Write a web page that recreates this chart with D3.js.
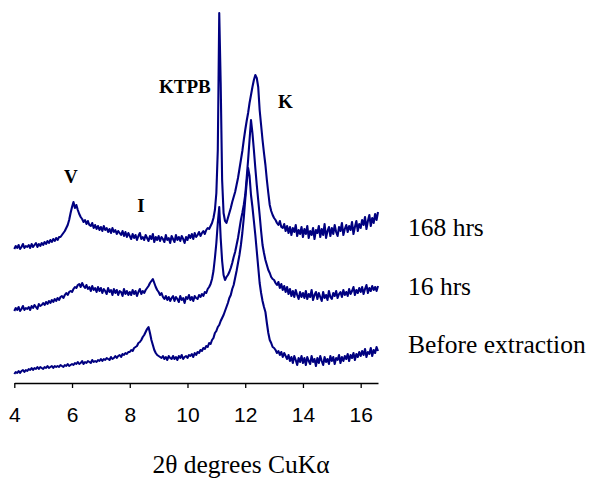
<!DOCTYPE html>
<html>
<head>
<meta charset="utf-8">
<script src="https://cdn.jsdelivr.net/npm/d3@7"></script>
<style>
  html, body { margin: 0; padding: 0; background: #fff; }
  svg { display: block; }
</style>
</head>
<body>
<div id="chart"></div>
<script>
// XRD patterns, stacked (intensity in arbitrary units, offset per pattern)
// sampled on a 2θ grid: 4.00 .. 16.60 deg, step 0.05
const TT_START = 4.0;
const TT_STEP = 0.05;

const seriesNames = ['Before extraction', '16 hrs', '168 hrs'];

const beforeExtraction = [
  9, 11, 10, 12, 10, 12, 13, 11, 13, 12,
  14, 13, 15, 13, 15, 14, 16, 14, 16, 15,
  14, 16, 15, 17, 15, 16, 17, 15, 17, 16,
  17, 16, 18, 17, 16, 18, 17, 19, 17, 18,
  19, 18, 20, 19, 21, 19, 20, 22, 19, 21,
  20, 22, 21, 20, 23, 21, 22, 21, 23, 22,
  24, 22, 24, 23, 25, 24, 23, 26, 24, 25,
  27, 25, 27, 28, 26, 29, 28, 30, 29, 31,
  31, 33, 32, 35, 36, 37, 40, 41, 43, 46,
  48, 51, 54, 56, 50, 43, 38, 33, 30, 28,
  27, 26, 25, 27, 24, 26, 23, 27, 25, 24,
  27, 24, 26, 23, 27, 25, 28, 24, 26, 27,
  25, 28, 27, 29, 26, 30, 28, 31, 30, 33,
  32, 35, 34, 37, 36, 40, 39, 43, 45, 50,
  52, 56, 58, 62, 65, 68, 72, 76, 80, 85,
  88, 94, 98, 105, 112, 120, 128, 138, 150, 165,
  183, 200, 215, 207, 188, 176, 162, 148, 132, 116,
  100, 90, 82, 76, 71, 60, 50, 43, 40, 36,
  35, 33, 30, 32, 28, 31, 26, 30, 27, 24,
  28, 22, 26, 20, 27, 23, 18, 25, 21, 27,
  20, 25, 18, 26, 22, 19, 27, 21, 24, 17,
  25, 20, 27, 22, 18, 26, 21, 24, 19, 27,
  22, 26, 19, 25, 23, 28, 20, 26, 22, 27,
  24, 29, 22, 28, 25, 30, 23, 29, 26, 31,
  27, 32, 28, 34, 26, 31, 29, 35, 27, 33,
  30, 36, 32
];

const hrs16 = [
  72, 75, 73, 76, 72, 74, 77, 73, 75, 74,
  76, 73, 77, 75, 78, 76, 74, 79, 77, 78,
  80, 78, 81, 79, 82, 80, 83, 81, 84, 82,
  85, 83, 86, 87, 85, 88, 90, 88, 91, 92,
  91, 94, 96, 95, 98, 99, 96, 100, 97, 95,
  98, 94, 96, 92, 97, 93, 95, 91, 96, 92,
  95, 90, 94, 92, 89, 95, 91, 93, 88, 94,
  90, 93, 88, 92, 91, 87, 94, 89, 92, 88,
  91, 88, 93, 89, 92, 87, 91, 94, 89, 92,
  90, 93, 95, 97, 100, 102, 104, 100, 96, 93,
  91, 88, 90, 86, 84, 87, 83, 86, 82, 85,
  87, 82, 86, 84, 81, 87, 83, 85, 80, 86,
  84, 88, 83, 86, 82, 87, 85, 84, 88, 86,
  89, 87, 91, 90, 94, 96, 99, 104, 112, 125,
  140, 160, 176, 145, 122, 108, 103, 106, 108, 111,
  115, 120, 126, 131, 138, 145, 154, 163, 170, 178,
  188, 205, 223, 243, 263, 250, 233, 215, 198, 183,
  168, 152, 138, 130, 123, 118, 113, 110, 106, 104,
  103, 100, 98, 101, 95, 99, 93, 97, 91, 96,
  89, 94, 87, 92, 86, 93, 88, 84, 91, 86,
  90, 85, 92, 84, 89, 86, 93, 83, 88, 91,
  84, 90, 86, 82, 91, 85, 88, 83, 92, 86,
  84, 90, 87, 92, 85, 89, 91, 86, 93, 88,
  91, 87, 94, 89, 92, 96, 88, 93, 90, 95,
  91, 96, 89, 94, 98, 90, 95, 92, 97, 93,
  96, 92, 97
];

const hrs168 = [
  134, 137, 135, 138, 134, 136, 139, 135, 137, 136,
  138, 135, 139, 136, 138, 140, 136, 139, 137, 140,
  138, 141, 139, 142, 140, 143, 141, 144, 142, 145,
  143, 146, 146, 148, 150, 152, 155, 158, 163, 170,
  176, 181, 175, 178, 173, 169, 166, 164, 161, 163,
  159, 162, 158, 157, 160, 155, 158, 154, 157, 153,
  156, 152, 157, 153, 155, 151, 154, 150, 155, 151,
  153, 149, 152, 150, 148, 152, 147, 151, 146, 150,
  147, 144, 149, 145, 148, 143, 147, 150, 144, 146,
  143, 148, 145, 142, 147, 144, 149, 141, 146, 143,
  147, 142, 146, 144, 141, 148, 143, 145, 140, 147,
  144, 141, 148, 143, 146, 142, 147, 144, 140, 146,
  143, 148, 145, 149, 144, 150, 146, 148, 151, 147,
  150, 152, 149, 153, 155, 154, 157, 160, 165, 173,
  190, 233, 370, 300, 203, 170, 162, 160, 165, 170,
  175, 181, 186, 191, 198, 205, 214, 223, 232, 243,
  253, 262, 270, 280, 288, 296, 303, 308, 305, 296,
  273, 258, 243, 230, 218, 203, 190, 178, 172, 168,
  165, 163, 160, 158, 162, 156, 155, 159, 152, 157,
  150, 156, 148, 155, 151, 158, 147, 153, 149, 156,
  146, 154, 149, 157, 145, 152, 148, 155, 144, 153,
  150, 157, 146, 154, 148, 159, 145, 152, 156, 147,
  155, 149, 158, 151, 147, 156, 152, 160, 148, 154,
  158, 151, 157, 153, 161, 149, 156, 162, 152, 159,
  155, 163, 158, 166, 154, 162, 168, 157, 165, 160,
  169, 163, 171
];

// level (same intensity units) where each pattern's name sits on the right
const seriesLabelLevel = [30, 88, 147];

// peak annotations: reflection name, 2θ and intensity of the label baseline
const peakNames = ['V', 'I', 'KTPB', 'K'];
const peakAt = [5.96, 8.39, 9.91, 13.39];
const peakLevel = [200, 171, 290, 275];

const xTicks = [4, 6, 8, 10, 12, 14, 16];

// ── Layout ────────────────────────────────────────────────────────────────
const W = 592;
const H = 479;
const LINE = '#000080';
const SERIF = "'Liberation Serif','Times New Roman',Times,serif";
const SANS = "'Liberation Sans',Arial,Helvetica,sans-serif";

const x = d3.scaleLinear().domain([4, 16.6]).range([14.3, 378]);
const y = d3.scaleLinear().domain([0, 370]).range([383, 13]);

const svg = d3.select('#chart')
  .append('svg')
  .attr('width', W)
  .attr('height', H)
  .attr('viewBox', `0 0 ${W} ${H}`);

// ── Patterns ──────────────────────────────────────────────────────────────
const line = d3.line()
  .x((d, i) => x(TT_START + i * TT_STEP))
  .y(d => y(d));

svg.selectAll('path.pattern')
  .data([beforeExtraction, hrs16, hrs168])
  .enter()
  .append('path')
  .attr('class', 'pattern')
  .attr('d', line)
  .attr('fill', 'none')
  .attr('stroke', LINE)
  .attr('stroke-width', 2.1)
  .attr('stroke-linejoin', 'round');

// ── X axis ────────────────────────────────────────────────────────────────
const axis = svg.append('g')
  .attr('transform', `translate(0,${y(0)})`)
  .call(d3.axisBottom(x)
    .tickValues(xTicks)
    .tickSizeInner(5)
    .tickSizeOuter(0)
    .tickPadding(19)
    .tickFormat(d3.format('d')));

axis.select('.domain').attr('stroke', '#000').attr('stroke-width', 1.3);
axis.selectAll('.tick line').attr('stroke', '#000').attr('stroke-width', 1.3);
axis.selectAll('.tick text')
  .attr('fill', '#000')
  .attr('font-family', SANS)
  .attr('font-size', '21px');

svg.append('text')
  .attr('x', 241)
  .attr('y', 473)
  .attr('text-anchor', 'middle')
  .attr('font-family', SERIF)
  .attr('font-size', '25.5px')
  .attr('fill', '#000')
  .text('2θ degrees CuKα');

// ── Labels ────────────────────────────────────────────────────────────────
svg.selectAll('text.series-label')
  .data(seriesNames)
  .enter()
  .append('text')
  .attr('class', 'series-label')
  .attr('x', x.range()[1] + 30)
  .attr('y', (d, i) => y(seriesLabelLevel[i]))
  .attr('font-family', SERIF)
  .attr('font-size', '25.5px')
  .attr('fill', '#000')
  .text(d => d);

svg.selectAll('text.peak-label')
  .data(peakNames)
  .enter()
  .append('text')
  .attr('class', 'peak-label')
  .attr('x', (d, i) => x(peakAt[i]))
  .attr('y', (d, i) => y(peakLevel[i]))
  .attr('text-anchor', 'middle')
  .attr('font-family', SERIF)
  .attr('font-weight', 'bold')
  .attr('font-size', '19px')
  .attr('fill', '#000')
  .text(d => d);
</script>
</body>
</html>
